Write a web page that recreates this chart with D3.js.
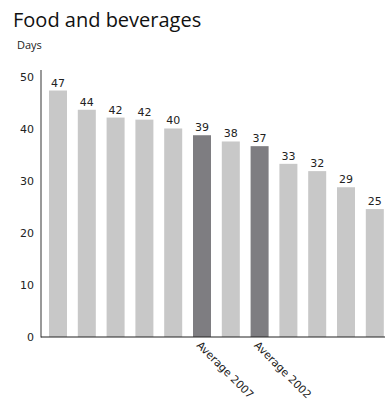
<!DOCTYPE html>
<html>
<head>
<meta charset="utf-8">
<script src="https://cdn.jsdelivr.net/npm/d3@7"></script>
<style>
  html, body { margin: 0; padding: 0; background: #fff; }
  svg { display: block; }
</style>
</head>
<body>
<svg id="chart" width="385" height="405"></svg>
<script>
const categories = ["c1","c2","c3","c4","c5","Average 2007","c7","Average 2002","c9","c10","c11","c12"];
const categoryLabels = ["","","","","","Average 2007","","Average 2002","","","",""];
const values = [47.4, 43.7, 42.2, 41.8, 40.1, 38.8, 37.6, 36.7, 33.3, 31.9, 28.8, 24.6];
const highlighted = [false,false,false,false,false,true,false,true,false,false,false,false];
const yTicks = [0, 10, 20, 30, 40, 50];
const title = "Food and beverages";
const yUnit = "Days";

const svg = d3.select("#chart");
const x0 = 41, x1 = 385, yBottom = 337, yTop = 77;

const x = d3.scaleBand().domain(categories).range([49, 49 + 28.8 * (12 - 0.375)]).paddingInner(0.375).paddingOuter(0);
const y = d3.scaleLinear().domain([0, 50]).range([yBottom, yTop]);

svg.append("text").attr("x", 13).attr("y", 27)
  .attr("font-family", "'Open Sans', sans-serif").attr("font-size", 20).attr("fill", "#111")
  .text(title);
svg.append("text").attr("x", 17).attr("y", 49)
  .attr("font-family", "'Open Sans', sans-serif").attr("font-size", 11).attr("fill", "#222")
  .text(yUnit);

// y axis
const yAxis = d3.axisLeft(y).tickValues(yTicks).tickSize(0).tickPadding(7);
const gy = svg.append("g").attr("transform", `translate(${x0},0)`).call(yAxis);
gy.select(".domain").remove();
gy.selectAll("text").attr("font-family", "'DejaVu Sans', sans-serif").attr("font-size", 11).attr("fill", "#222");

// bars
svg.append("g").selectAll("rect").data(values).join("rect")
  .attr("x", (d, i) => x(categories[i]))
  .attr("width", x.bandwidth())
  .attr("y", d => y(d))
  .attr("height", d => yBottom - y(d))
  .attr("fill", (d, i) => highlighted[i] ? "#7e7d81" : "#c8c8c8");

// value labels
svg.append("g").selectAll("text").data(values).join("text")
  .attr("x", (d, i) => x(categories[i]) + x.bandwidth() / 2)
  .attr("y", d => y(d) - 4)
  .attr("text-anchor", "middle")
  .attr("font-family", "'DejaVu Sans', sans-serif").attr("font-size", 11).attr("fill", "#222")
  .text(d => Math.round(d));

// axis lines
svg.append("line").attr("x1", x0).attr("x2", x0).attr("y1", 70).attr("y2", yBottom + 0.5)
  .attr("stroke", "#555").attr("stroke-width", 1.2);
svg.append("line").attr("x1", x0).attr("x2", x1).attr("y1", yBottom).attr("y2", yBottom)
  .attr("stroke", "#222").attr("stroke-width", 1.2);

// category labels
svg.append("g").selectAll("text").data(categories.map((c, i) => [c, categoryLabels[i]]).filter(d => d[1])).join("text")
  .attr("transform", d => `translate(${x(d[0]) + x.bandwidth() / 2 - 6},${yBottom + 9}) rotate(45)`)
  .attr("text-anchor", "start")
  .attr("font-family", "'DejaVu Sans', sans-serif").attr("font-size", 10.8).attr("fill", "#222")
  .text(d => d[1]);
</script>
</body>
</html>
